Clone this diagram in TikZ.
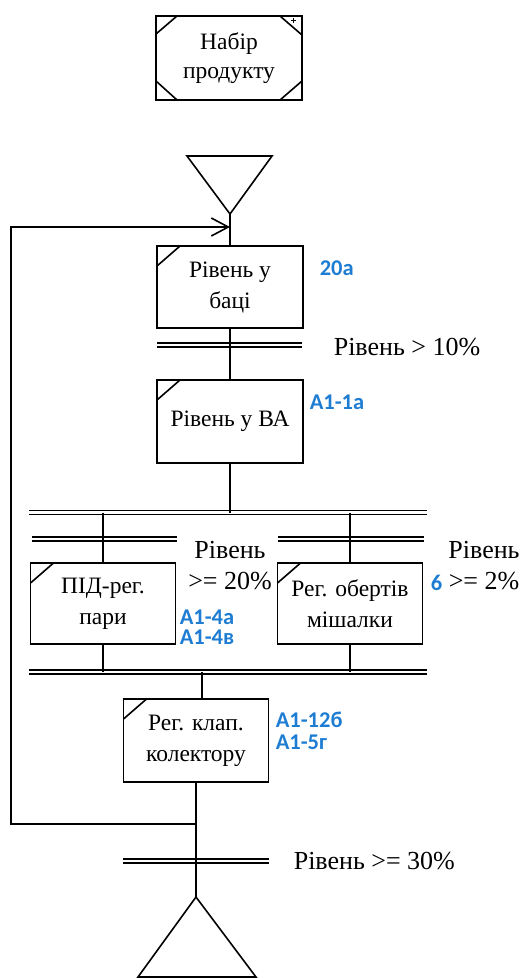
\documentclass[tikz,border=0pt]{standalone}
\usepackage{fontspec}
\setmainfont{Liberation Serif}
\newfontfamily\lblfont{Carlito}
\usetikzlibrary{arrows.meta}
\definecolor{lblblue}{RGB}{30,125,210}
\begin{document}
\begin{tikzpicture}[x=1pt,y=-1pt,line width=1.6pt,
  serif/.style={font=\fontsize{26}{30}\selectfont, inner sep=0pt},
  blbl/.style={font=\lblfont\bfseries\fontsize{22.5}{24}\selectfont, text=lblblue, inner sep=0pt, anchor=west},
  blbltwo/.style={font=\lblfont\bfseries\fontsize{22.5}{20.5}\selectfont, text=lblblue, inner sep=0pt, anchor=north west, align=left},
  stepbox/.style={draw, line width=1.6pt, minimum width=146pt, minimum height=82pt, align=center, inner sep=0pt,
    font=\fontsize{23.5}{31}\selectfont,
    path picture={\draw[line width=1.6pt] ([yshift=-20pt]path picture bounding box.north west) -- ++(23pt,20pt);}},
  bar/.style={double, double distance=2.6pt, line width=1.4pt}]
\useasboundingbox (0,0) rectangle (522,978);

% start box
\node[draw, line width=1.6pt, minimum width=146pt, minimum height=84pt, align=center, inner sep=0pt,
  font=\fontsize{23.5}{29}\selectfont,
  path picture={
    \draw[line width=1.6pt] ([yshift=-18pt]path picture bounding box.north west) -- ++(21pt,18pt);
    \draw[line width=1.6pt] ([yshift=-19pt]path picture bounding box.north east) -- ++(-22pt,19pt);
    \draw[line width=1.6pt] ([yshift=19pt]path picture bounding box.south west) -- ++(21pt,-19pt);
    \draw[line width=1.6pt] ([yshift=19pt]path picture bounding box.south east) -- ++(-22pt,-19pt);
  }] (start) at (229,58) {Набір\\продукту};
\draw[line width=1pt] ([shift={(-9pt,-3pt)}]start.north east) -- ++(0,-5pt)
                      ([shift={(-11.5pt,-5.5pt)}]start.north east) -- ++(5pt,0);

% top triangle
\coordinate (t1l) at (187,156);
\coordinate (t1r) at (272,156);
\coordinate (t1a) at (230,214);
\draw[line join=miter] (t1l) -- (t1r) -- (t1a) -- cycle;

% boxes
\node[stepbox] (b1) at (230,287) {Рівень у\\баці};
\node[stepbox, minimum height=83pt] (b2) at (230,421.5) {Рівень у ВА};
\node[stepbox, minimum width=145pt, minimum height=81pt] (b3) at (103,603.5) {ПІД-рег.\\пари};
\node[stepbox, minimum width=145pt, minimum height=81pt] (b4) at (350,603.5) {Рег. обертів\\мішалки};
\node[stepbox, minimum width=145pt, minimum height=83pt] (b5) at (196,740.5) {Рег. клап.\\колектору};

% bars
\coordinate (bar1l) at (157,345); \coordinate (bar1r) at (302,345);
\coordinate (wb1l) at (29,512.7); \coordinate (wb1r) at (427,512.7);
\coordinate (sb1l) at (32,539); \coordinate (sb1r) at (177,539);
\coordinate (sb2l) at (278,539); \coordinate (sb2r) at (424,539);
\coordinate (wb2l) at (29,672); \coordinate (wb2r) at (427,672);
\coordinate (bar5l) at (123,861); \coordinate (bar5r) at (269,861);
\draw[bar] (bar1l) -- (bar1r);
\draw[bar] (wb1l) -- (wb1r);
\draw[bar] (sb1l) -- (sb1r);
\draw[bar] (sb2l) -- (sb2r);
\draw[bar] (wb2l) -- (wb2r);
\draw[bar] (bar5l) -- (bar5r);

% connectors
\draw (t1a) -- (b1.north);
\draw (b1.south) -- (b2.north);
\draw (b2.south) -- (b2.south |- wb1l);
\draw (b3.north |- wb1l) -- (b3.north);
\draw (b4.north |- wb1l) -- (b4.north);
\draw (b3.south) -- (b3.south |- wb2l);
\draw (b4.south) -- (b4.south |- wb2l);
\draw ([xshift=6pt]b5.north |- wb2l) -- ([xshift=6pt]b5.north);

% bottom triangle
\coordinate (t2a) at (196,897);
\coordinate (t2l) at (138,977);
\coordinate (t2r) at (256,977);
\draw[line join=miter] (t2a) -- (t2l) -- (t2r) -- cycle;

% loop
\coordinate (j) at (b5.south |- 0,824);
\coordinate (lc1) at (11,824);
\coordinate (lc2) at (11,227);
\coordinate (m) at (230,227);
\draw (b5.south) -- (j) -- (t2a);
\draw[-{Straight Barb[length=17pt,width=18pt,line width=1.6pt]}] (j) -- (lc1) -- (lc2) -- (m);

% labels
\node[blbl] (l1) at (319,268) {20а};
\node[serif, anchor=west] (c1) at (333,347) {Рівень > 10\%};
\node[blbl] (l2) at (309,402) {А1-1а};
\node[serif] (c2a) at (230,550) {Рівень};
\node[serif] (c2b) at (230,581) {>= 20\%};
\node[serif] (c3a) at (484,550) {Рівень};
\node[serif] (c3b) at (484,581) {>= 2\%};
\node[blbl] (l6) at (430,583) {6};
\node[blbltwo] (l3) at (179,609) {А1-4а\\А1-4в};
\node[blbltwo, font=\lblfont\bfseries\fontsize{22.5}{22}\selectfont] (l5) at (275,711) {А1-12б\\А1-5г};
\node[serif, anchor=west] (c4) at (293,861) {Рівень >= 30\%};
\end{tikzpicture}
\end{document}
